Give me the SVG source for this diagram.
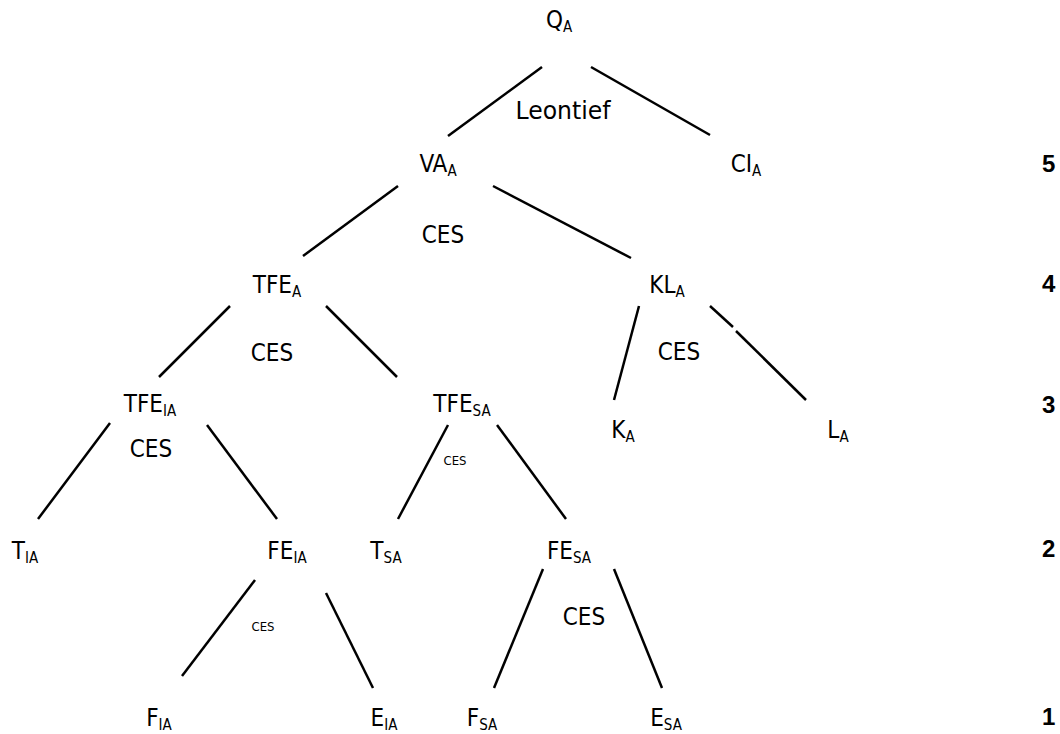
<svg xmlns="http://www.w3.org/2000/svg" width="1060" height="734" viewBox="0 0 1060 734">
<style>
.lbl{font-family:"DejaVu Sans Condensed","DejaVu Sans",sans-serif;font-stretch:condensed;font-size:24px;fill:#000;text-anchor:middle}
.sub{font-size:15px}
.ces{font-family:"DejaVu Sans Condensed","DejaVu Sans",sans-serif;font-stretch:condensed;font-size:24px;fill:#000;text-anchor:middle}
.small{font-size:13px}
.lvl{font-family:"Liberation Sans",Arial,sans-serif;font-weight:bold;font-size:24px;fill:#000}
.edge{stroke:#000;stroke-width:2.5;fill:none}
</style>
<rect width="1060" height="734" fill="#fff"/>
<g id="connectors">
<line class="edge" x1="542" y1="67" x2="448" y2="136"/>
<line class="edge" x1="591" y1="67" x2="710" y2="135"/>
<line class="edge" x1="398" y1="186" x2="303" y2="256"/>
<line class="edge" x1="493" y1="186" x2="631" y2="258"/>
<line class="edge" x1="230" y1="306" x2="159" y2="377"/>
<line class="edge" x1="326" y1="306" x2="397" y2="377"/>
<line class="edge" x1="639" y1="306" x2="614" y2="400"/>
<line class="edge" x1="710" y1="306" x2="733" y2="327"/>
<line class="edge" x1="736" y1="331" x2="806" y2="400"/>
<line class="edge" x1="110" y1="423" x2="38" y2="519"/>
<line class="edge" x1="207" y1="425" x2="277" y2="519"/>
<line class="edge" x1="448" y1="425" x2="398" y2="519"/>
<line class="edge" x1="497" y1="425" x2="566" y2="519"/>
<line class="edge" x1="255" y1="580" x2="182" y2="676"/>
<line class="edge" x1="326" y1="593" x2="373" y2="688"/>
<line class="edge" x1="543" y1="569" x2="494" y2="688"/>
<line class="edge" x1="614" y1="569" x2="662" y2="688"/>
</g>
<g id="QA"><text class="lbl" x="559" y="28">Q<tspan class="sub" dy="4">A</tspan></text></g>
<g id="VAA"><text class="lbl" x="438" y="172">VA<tspan class="sub" dy="4">A</tspan></text></g>
<g id="CIA"><text class="lbl" x="746" y="172">CI<tspan class="sub" dy="4">A</tspan></text></g>
<g id="TFEA"><text class="lbl" x="277" y="293">TFE<tspan class="sub" dy="4">A</tspan></text></g>
<g id="KLA"><text class="lbl" x="667" y="293">KL<tspan class="sub" dy="4">A</tspan></text></g>
<g id="TFEIA"><text class="lbl" x="150" y="412">TFE<tspan class="sub" dy="4">IA</tspan></text></g>
<g id="TFESA"><text class="lbl" x="462" y="412">TFE<tspan class="sub" dy="4">SA</tspan></text></g>
<g id="KA"><text class="lbl" x="623" y="438">K<tspan class="sub" dy="4">A</tspan></text></g>
<g id="LA"><text class="lbl" x="838" y="438">L<tspan class="sub" dy="4">A</tspan></text></g>
<g id="TIA"><text class="lbl" x="25" y="559">T<tspan class="sub" dy="4">IA</tspan></text></g>
<g id="FEIA"><text class="lbl" x="287" y="559">FE<tspan class="sub" dy="4">IA</tspan></text></g>
<g id="TSA"><text class="lbl" x="386" y="559">T<tspan class="sub" dy="4">SA</tspan></text></g>
<g id="FESA"><text class="lbl" x="569" y="559">FE<tspan class="sub" dy="4">SA</tspan></text></g>
<g id="FIA"><text class="lbl" x="159" y="726">F<tspan class="sub" dy="4">IA</tspan></text></g>
<g id="EIA"><text class="lbl" x="384" y="726">E<tspan class="sub" dy="4">IA</tspan></text></g>
<g id="FSA"><text class="lbl" x="482" y="726">F<tspan class="sub" dy="4">SA</tspan></text></g>
<g id="ESA"><text class="lbl" x="666" y="726">E<tspan class="sub" dy="4">SA</tspan></text></g>
<g id="functions">
<text class="ces" x="563" y="119" textLength="95" lengthAdjust="spacingAndGlyphs">Leontief</text>
<text class="ces" x="443" y="243">CES</text>
<text class="ces" x="272" y="361">CES</text>
<text class="ces" x="679" y="360">CES</text>
<text class="ces" x="151" y="457">CES</text>
<text class="ces small" x="455" y="465">CES</text>
<text class="ces small" x="263" y="631">CES</text>
<text class="ces" x="584" y="625">CES</text>
</g>
<g id="levels">
<text class="lvl" x="1042" y="172">5</text>
<text class="lvl" x="1042" y="292">4</text>
<text class="lvl" x="1042" y="413">3</text>
<text class="lvl" x="1042" y="557">2</text>
<text class="lvl" x="1042" y="725">1</text>
</g>
</svg>
